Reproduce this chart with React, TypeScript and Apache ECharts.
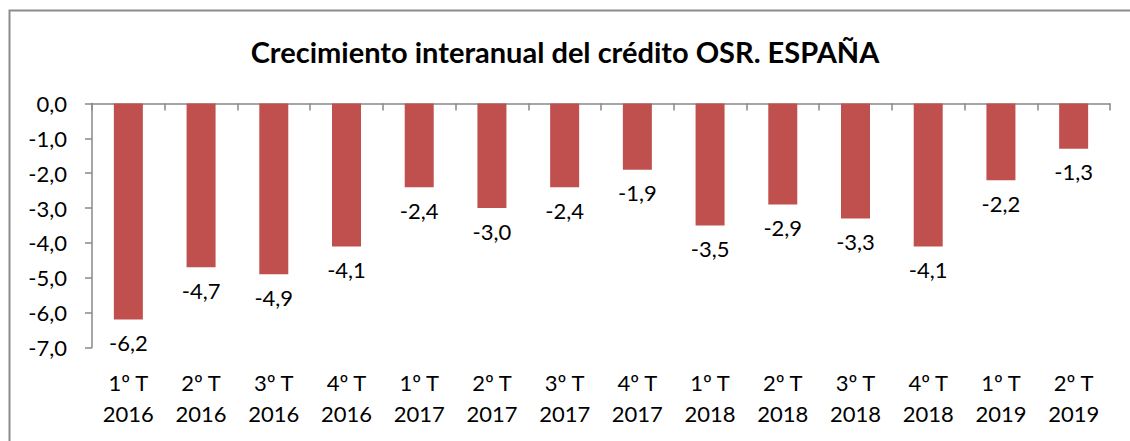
import React, { useEffect, useRef } from "react";
import * as echarts from "echarts";

const titleText = "Crecimiento interanual del crédito OSR. ESPAÑA";
const categories = [
  "1º T\n2016", "2º T\n2016", "3º T\n2016", "4º T\n2016",
  "1º T\n2017", "2º T\n2017", "3º T\n2017", "4º T\n2017",
  "1º T\n2018", "2º T\n2018", "3º T\n2018", "4º T\n2018",
  "1º T\n2019", "2º T\n2019",
];
const values = [-6.2, -4.7, -4.9, -4.1, -2.4, -3.0, -2.4, -1.9, -3.5, -2.9, -3.3, -4.1, -2.2, -1.3];
const yMin = -7;
const yMax = 0;
const yInterval = 1;

const fmt = (v: number) => v.toFixed(1).replace(".", ",");
const FONT = "Lato, 'Open Sans', sans-serif";

export default function App() {
  const ref = useRef<HTMLDivElement>(null);
  useEffect(() => {
    if (!ref.current) return;
    const chart = echarts.init(ref.current, null, { renderer: "svg" });
    chart.setOption({
      animation: false,
      backgroundColor: "#fff",
      textStyle: { fontFamily: FONT },
      title: {
        text: titleText,
        left: "center",
        top: 32,
        textStyle: { fontFamily: FONT, fontWeight: "bold", fontSize: 29, color: "#000" },
      },
      graphic: [
        {
          type: "rect",
          shape: { x: 9.5, y: 10.5, width: 1140, height: 450 },
          style: { fill: "none", stroke: "#8c8c8c", lineWidth: 2 },
          silent: true,
        },
      ],
      grid: { left: 92, right: 20, top: 103.5, bottom: 93.5, containLabel: false },
      xAxis: [
        {
          type: "category",
          data: categories,
          position: "top",
          axisLine: { show: true, onZero: false, lineStyle: { color: "#888", width: 1.5 } },
          axisTick: { show: true, inside: true, length: 7, lineStyle: { color: "#888", width: 1.5 } },
          axisLabel: { show: false },
          splitLine: { show: false },
        },
        {
          type: "category",
          data: categories,
          position: "bottom",
          axisLine: { show: false },
          axisTick: { show: false },
          axisLabel: {
            show: true,
            interval: 0,
            margin: 19,
            fontSize: 22,
            lineHeight: 31,
            color: "#000",
            fontFamily: FONT,
          },
          splitLine: { show: false },
        },
      ],
      yAxis: {
        type: "value",
        min: yMin,
        max: yMax,
        interval: yInterval,
        axisLine: { show: true, lineStyle: { color: "#888", width: 1.5 } },
        axisTick: { show: true, length: 7, lineStyle: { color: "#888", width: 1.5 } },
        axisLabel: { formatter: (v: number) => fmt(v), fontSize: 22, color: "#000", margin: 25, fontFamily: FONT },
        splitLine: { show: false },
      },
      series: [
        {
          type: "bar",
          xAxisIndex: 0,
          data: values,
          barWidth: 29,
          itemStyle: { color: "#C0504D" },
          label: {
            show: true,
            position: "bottom",
            distance: 12,
            formatter: (p: any) => fmt(p.value),
            fontSize: 22,
            color: "#000",
            fontFamily: FONT,
          },
        },
      ],
    });
    return () => chart.dispose();
  }, []);
  return (
    <div
      ref={ref}
      style={{ position: "fixed", left: 0, top: 0, width: 1130, height: 441 }}
    />
  );
}
